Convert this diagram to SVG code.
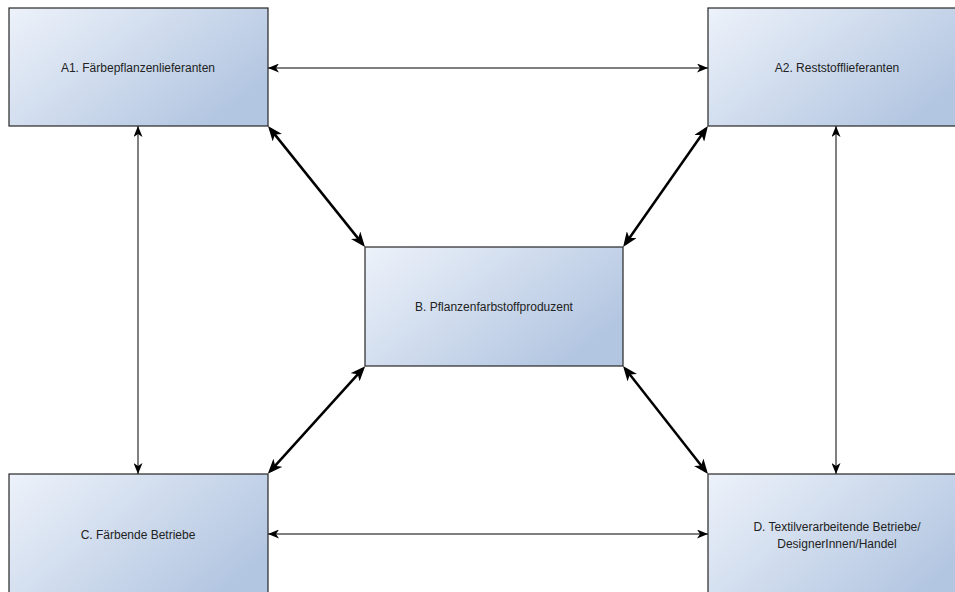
<svg xmlns="http://www.w3.org/2000/svg" width="955" height="592" viewBox="0 0 955 592">
<defs>
<linearGradient id="g" x1="0" y1="0" x2="1" y2="0.6">
<stop offset="0" stop-color="#edf2fa"/>
<stop offset="1" stop-color="#b3c6e1"/>
</linearGradient>
<marker id="thin" viewBox="0 0 11 9" refX="11" refY="4.5" markerWidth="11" markerHeight="9" markerUnits="userSpaceOnUse" orient="auto-start-reverse">
<path d="M0,0 L11,4.5 L0,9 L3,4.5 Z" fill="#000"/>
</marker>
<marker id="thick" viewBox="0 0 15 12" refX="11" refY="6" markerWidth="15" markerHeight="12" markerUnits="userSpaceOnUse" orient="auto-start-reverse">
<path d="M0,0 L15,6 L0,12 L4,6 Z" fill="#000"/>
</marker>
</defs>
<style>
.box{fill:url(#g);stroke:#262626;stroke-width:1.2}
.lbl{font-family:"Liberation Sans",Arial,sans-serif;font-size:12px;fill:#222;text-anchor:middle}
.t{stroke:#000;stroke-width:1;fill:none;marker-start:url(#thin);marker-end:url(#thin)}
.k{stroke:#000;stroke-width:2.5;fill:none;marker-start:url(#thick);marker-end:url(#thick)}
</style>
<rect width="955" height="592" fill="#fff"/>
<g id="connectors">
<line class="t" x1="268" y1="68" x2="708" y2="68"/>
<line class="t" x1="268" y1="534" x2="708" y2="534"/>
<line class="t" x1="138" y1="126" x2="138" y2="474"/>
<line class="t" x1="836" y1="126" x2="836" y2="474"/>
<line class="k" x1="270.5" y1="129.1" x2="362.5" y2="243.9"/>
<line class="k" x1="705.6" y1="129.3" x2="625.4" y2="243.7"/>
<line class="k" x1="270.5" y1="470.9" x2="362.5" y2="369.1"/>
<line class="k" x1="705.5" y1="470.9" x2="625.5" y2="369.1"/>
</g>
<g id="A1">
<rect class="box" x="9" y="8" width="259" height="118"/>
<text class="lbl" x="138" y="72">A1. Färbepflanzenlieferanten</text>
</g>
<g id="A2">
<rect class="box" x="708" y="8" width="259" height="118"/>
<text class="lbl" x="837" y="72">A2. Reststofflieferanten</text>
</g>
<g id="B">
<rect class="box" x="365" y="247" width="258" height="119"/>
<text class="lbl" x="494" y="311">B. Pflanzenfarbstoffproduzent</text>
</g>
<g id="C">
<rect class="box" x="9" y="474" width="259" height="130"/>
<text class="lbl" x="138" y="539">C. Färbende Betriebe</text>
</g>
<g id="D">
<rect class="box" x="708" y="474" width="259" height="130"/>
<text class="lbl" x="837" y="531">D. Textilverarbeitende Betriebe/</text>
<text class="lbl" x="837" y="548">DesignerInnen/Handel</text>
</g>
</svg>
